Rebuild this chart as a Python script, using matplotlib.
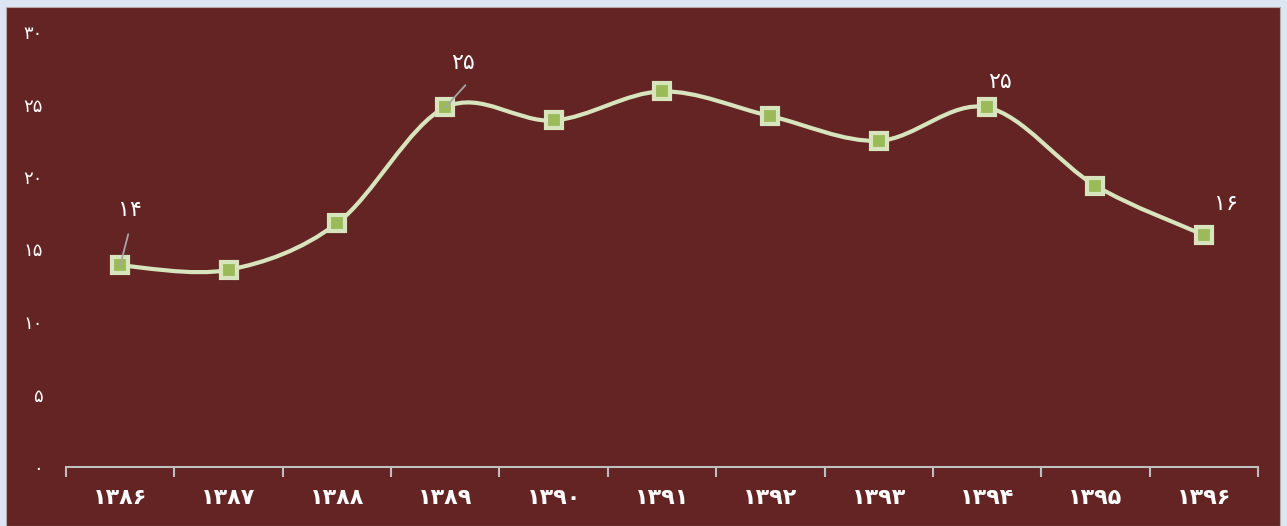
import numpy as np
import matplotlib
matplotlib.use("Agg")
import matplotlib.pyplot as plt
from matplotlib.path import Path
from matplotlib.patches import PathPatch, Rectangle

# data
years = ["۱۳۸۶", "۱۳۸۷", "۱۳۸۸", "۱۳۸۹", "۱۳۹۰", "۱۳۹۱",
         "۱۳۹۲", "۱۳۹۳", "۱۳۹۴", "۱۳۹۵", "۱۳۹۶"]
values = [13.9, 13.6, 16.8, 24.8, 23.9, 25.9, 24.2, 22.5, 24.8, 19.4, 16.0]
ytick_vals = [0, 5, 10, 15, 20, 25, 30]
ytick_labels = ["۰", "۵", "۱۰", "۱۵", "۲۰", "۲۵", "۳۰"]
# data labels shown on the chart: index -> text
point_labels = {0: "۱۴", 3: "۲۵", 8: "۲۵", 10: "۱۶"}

bg = "#632423"
line_col = "#d7e4bd"
marker_face = "#9bbb59"

fig = plt.figure(figsize=(12.87, 5.26), dpi=100)
fig.patch.set_facecolor("#dce6f2")
fig.patches.append(Rectangle((6 / 1287, 0), 1274 / 1287, 519 / 526,
                             transform=fig.transFigure, facecolor=bg,
                             edgecolor="#b8a8a8", linewidth=0.8, zorder=-1))

ax = fig.add_axes([66 / 1287, 59 / 526, 1192 / 1287, 435 / 526])
ax.set_facecolor("none")
ax.set_zorder(1)

x = np.arange(len(values))
y = np.array(values)

# smooth curve as cubic bezier segments (catmull-rom style)
verts = [(x[0], y[0])]
codes = [Path.MOVETO]
n = len(x)
for i in range(n - 1):
    p0 = np.array([x[max(i - 1, 0)], y[max(i - 1, 0)]])
    p1 = np.array([x[i], y[i]])
    p2 = np.array([x[i + 1], y[i + 1]])
    p3 = np.array([x[min(i + 2, n - 1)], y[min(i + 2, n - 1)]])
    c1 = p1 + (p2 - p0) / 6
    c2 = p2 - (p3 - p1) / 6
    verts += [tuple(c1), tuple(c2), tuple(p2)]
    codes += [Path.CURVE4] * 3
ax.add_patch(PathPatch(Path(verts, codes), facecolor="none",
                       edgecolor=line_col, linewidth=3, zorder=2))

ax.plot(x, y, linestyle="none", marker="s", markersize=12,
        markerfacecolor=marker_face, markeredgecolor=line_col,
        markeredgewidth=3, zorder=3)

# data labels (offsets in points)
offsets = {0: (7, 40), 3: (13, 32), 8: (9, 18), 10: (16, 22)}
leader_start = {0: (5.8, 22.5), 3: (14.5, 16)}
for i, txt in point_labels.items():
    dx, dy = offsets[i]
    ax.annotate(txt, xy=(x[i], y[i]), xytext=(dx, dy),
                textcoords="offset points", color="white", fontsize=16,
                ha="center", va="center", zorder=4)
    if i in leader_start:
        ax.annotate("", xy=(x[i], y[i]), xytext=leader_start[i],
                    textcoords="offset points", zorder=4,
                    arrowprops=dict(arrowstyle="-", color="#a6a6a6", lw=1.3,
                                    shrinkA=0, shrinkB=0))

ax.set_xlim(-0.5, n - 0.5)
ax.set_ylim(0, 30)
ax.set_xticks(x)
ax.set_xticklabels(years, fontsize=16, fontweight="bold", color="white")
ax.set_xticks(np.arange(-0.5, n, 1), minor=True)
ax.tick_params(axis="x", which="major", length=0, pad=15)
ax.tick_params(axis="x", which="minor", length=7, width=1.5, color="#bfbfbf",
               direction="out")
ax.set_yticks(ytick_vals)
ax.set_yticklabels(ytick_labels, fontsize=13, color="white")
ax.tick_params(axis="y", length=0, pad=17)

for side in ["top", "right", "left"]:
    ax.spines[side].set_visible(False)
ax.spines["bottom"].set_color("#bfbfbf")
ax.spines["bottom"].set_linewidth(1.5)

fig.savefig("out.png", dpi=100, facecolor=fig.get_facecolor())
